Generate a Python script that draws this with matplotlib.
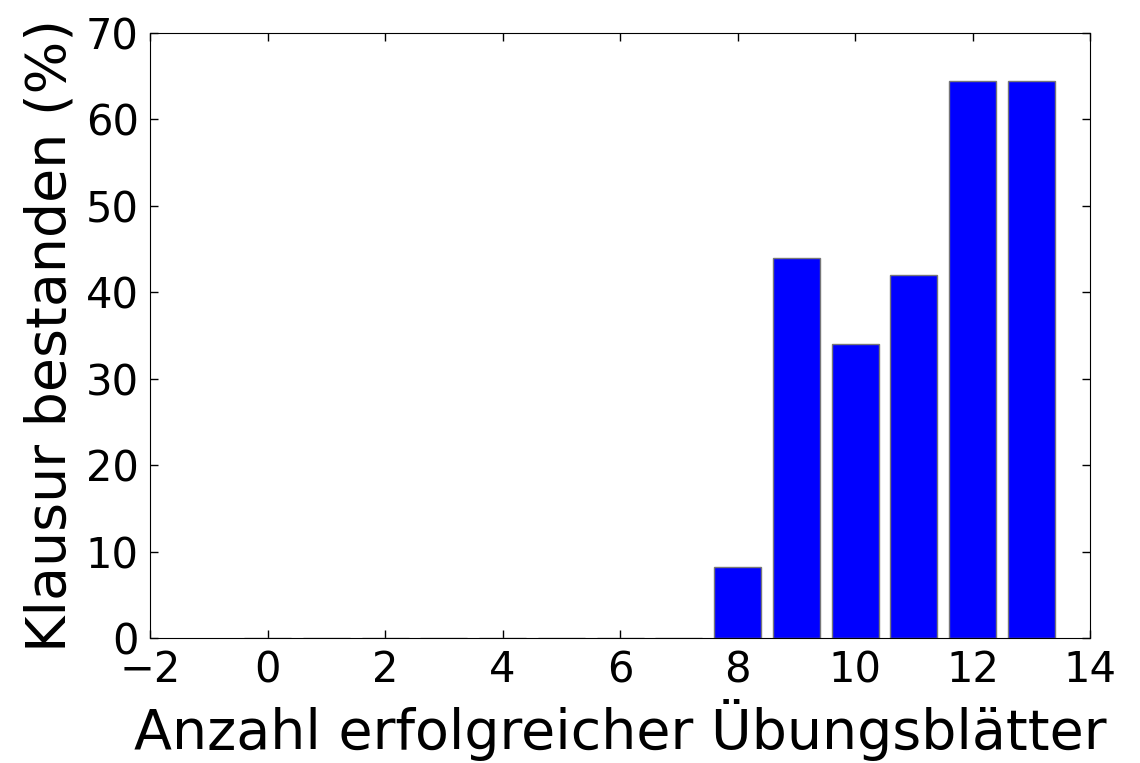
import numpy as np
import matplotlib
matplotlib.use("Agg")
import matplotlib.pyplot as plt

# Anzahl erfolgreicher Übungsblätter vs. Anteil bestanden
sheets = np.arange(0, 14)
passed = [0, 0, 0, 0, 0, 0, 0, 0, 8.2, 44, 34, 42, 64.5, 64.5]

fig = plt.figure(figsize=(11.4, 7.63), dpi=100)
ax = fig.add_axes([0.1316, 0.1638, 0.8246, 0.7929])

ax.bar(sheets, passed, width=0.8, color='#0000ff', edgecolor='#777777',
       linewidth=1.0, zorder=2)

ax.set_xlim(-2, 14)
ax.set_ylim(0, 70)
ax.set_xticks(np.arange(-2, 15, 2))
ax.set_yticks(np.arange(0, 71, 10))
ax.tick_params(direction='in', top=True, right=True, length=6, width=1,
               labelsize=30, pad=8)
ax.set_xlabel('Anzahl erfolgreicher Übungsblätter', fontsize=40, labelpad=6)
ax.set_ylabel('Klausur bestanden (%)', fontsize=40, labelpad=6)

fig.savefig('out.png', dpi=100)
